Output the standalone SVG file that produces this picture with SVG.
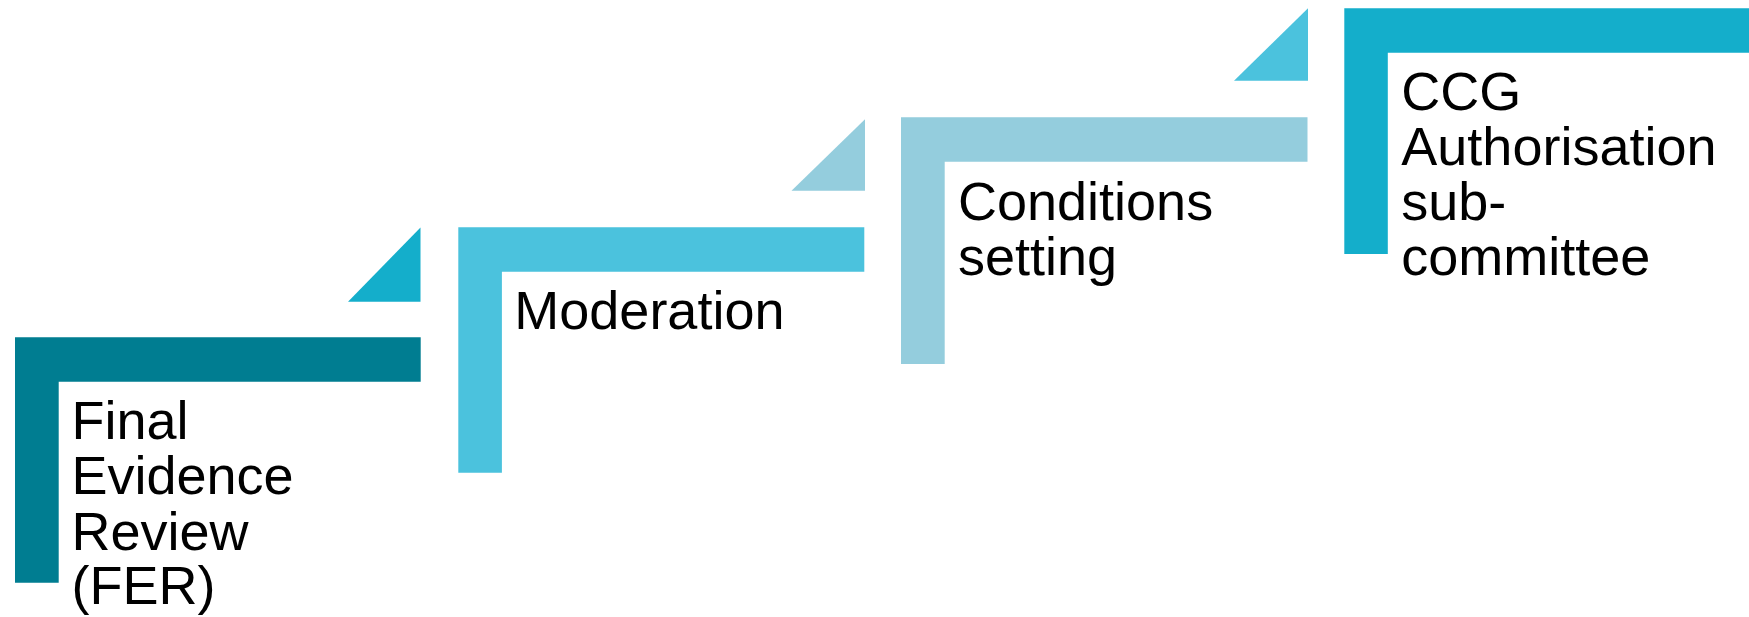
<svg xmlns="http://www.w3.org/2000/svg" width="1749" height="617" viewBox="0 0 1749 617">
<style>
.lbl{font-family:"Liberation Sans",Arial,sans-serif;font-size:54px;fill:#000}
.c1{fill:#007D91}
.c2{fill:#14AECB}
.c3{fill:#4BC2DD}
.c4{fill:#94CDDD}
</style>
<rect width="1749" height="617" fill="#fff"/>
<g id="connectors"></g>
<g id="step-fer">
<polygon class="c2" points="348,301.7 420.5,301.7 420.5,227.5"/>
<path class="c1" d="M15,337.3H420.7V381.7H58.7V582.7H15Z"/>
<text class="lbl" x="71.5" y="439.3">Final</text>
<text class="lbl" x="71.5" y="494.3">Evidence</text>
<text class="lbl" x="71.5" y="549.5">Review</text>
<text class="lbl" x="71.5" y="604.3">(FER)</text>
</g>
<g id="step-moderation">
<polygon class="c4" points="791.5,190.7 865,190.7 865,119.3"/>
<path class="c3" d="M458.3,227.3H864.3V271.7H501.9V472.7H458.3Z"/>
<text class="lbl" x="514.3" y="329.3">Moderation</text>
</g>
<g id="step-conditions">
<polygon class="c3" points="1234,80.7 1308,80.7 1308,8.3"/>
<path class="c4" d="M901,117.3H1307.5V161.7H944.7V364H901Z"/>
<text class="lbl" x="958" y="220">Conditions</text>
<text class="lbl" x="958" y="275">setting</text>
</g>
<g id="step-ccg">
<path class="c2" d="M1344.3,8.3H1760V52.7H1387.8V254H1344.3Z"/>
<text class="lbl" x="1401.3" y="110">CCG</text>
<text class="lbl" x="1401.3" y="165">Authorisation</text>
<text class="lbl" x="1401.3" y="220">sub-</text>
<text class="lbl" x="1401.3" y="275">committee</text>
</g>
</svg>
